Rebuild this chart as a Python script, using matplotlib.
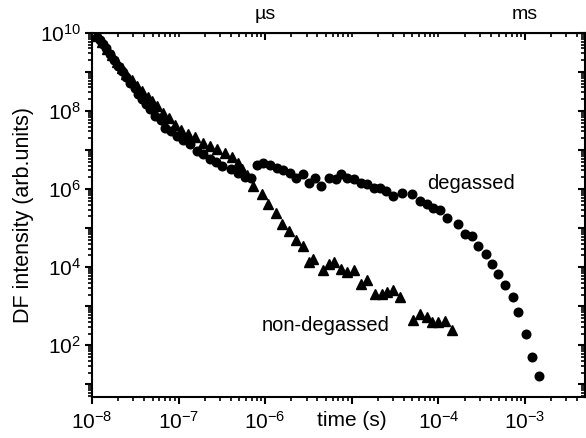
import numpy as np
import matplotlib
matplotlib.use("Agg")
import matplotlib.pyplot as plt
from matplotlib.ticker import LogLocator, FixedLocator, NullFormatter, FuncFormatter

plt.rcParams['font.family'] = ['Liberation Sans', 'DejaVu Sans']
plt.rcParams['mathtext.default'] = 'regular'

# degassed sample (circles): time (s), DF intensity (arb. units)
t_deg = [1.15e-8, 1.23e-8, 1.35e-8, 1.45e-8, 1.62e-8, 1.78e-8, 2.0e-8, 2.24e-8, 2.45e-8,
         2.75e-8, 3.1e-8, 3.4e-8, 3.8e-8, 4.2e-8, 4.7e-8, 5.4e-8, 6.2e-8, 6.9e-8, 8.1e-8,
         9.5e-8, 1.12e-7, 1.35e-7, 1.62e-7, 1.9e-7, 2.3e-7, 2.7e-7, 3.2e-7, 4.0e-7, 4.8e-7,
         5.9e-7, 6.8e-7, 8.1e-7, 9.5e-7, 1.15e-6, 1.38e-6, 1.62e-6, 1.95e-6, 2.24e-6, 2.7e-6,
         3.2e-6, 3.8e-6, 4.4e-6, 5.4e-6, 6.5e-6, 7.4e-6, 8.9e-6, 1.05e-5, 1.26e-5, 1.51e-5,
         1.78e-5, 2.1e-5, 2.45e-5, 3.0e-5, 3.8e-5, 5.0e-5, 6.2e-5, 7.4e-5, 8.7e-5, 1.05e-4,
         1.26e-4, 1.66e-4, 2.0e-4, 2.45e-4, 2.9e-4, 3.5e-4, 4.2e-4, 4.9e-4, 5.9e-4, 7.2e-4,
         8.3e-4, 1.02e-3, 1.2e-3, 1.45e-3]
i_deg = [7.9e9, 6.6e9, 5.2e9, 4.1e9, 2.9e9, 2.0e9, 1.4e9, 1.05e9, 7.2e8,
         5.1e8, 3.8e8, 2.7e8, 2.0e8, 1.55e8, 1.15e8, 7.6e7, 5.8e7, 3.7e7, 3.0e7,
         2.3e7, 1.8e7, 1.45e7, 9.5e6, 7.9e6, 5.9e6, 5.0e6, 3.9e6, 3.3e6, 2.6e6,
         2.0e6, 1.9e6, 4.2e6, 4.7e6, 4.2e6, 3.5e6, 3.1e6, 2.6e6, 1.9e6, 2.45e6,
         1.4e6, 1.9e6, 1.2e6, 1.9e6, 1.8e6, 2.45e6, 1.9e6, 1.8e6, 1.4e6, 1.35e6,
         1.07e6, 1.07e6, 8.9e5, 6.6e5, 7.9e5, 7.4e5, 4.9e5, 4.1e5, 3.2e5, 3.0e5,
         1.8e5, 1.3e5, 7.2e4, 6.2e4, 3.4e4, 2.2e4, 1.23e4, 6.8e3, 3.5e3, 1.74e3,
         7.1e2, 1.9e2, 4.9e1, 1.6e1]

# non-degassed sample (triangles)
t_non = [1.15e-8, 1.32e-8, 1.48e-8, 1.7e-8, 1.95e-8, 2.24e-8, 2.5e-8, 2.9e-8, 3.3e-8,
         3.8e-8, 4.4e-8, 4.9e-8, 5.6e-8, 6.6e-8, 7.8e-8, 9.1e-8, 1.07e-7, 1.29e-7, 1.55e-7,
         1.9e-7, 2.3e-7, 2.8e-7, 3.4e-7, 4.1e-7, 4.8e-7, 5.4e-7, 6.2e-7, 7.2e-7, 9.3e-7,
         1.07e-6, 1.32e-6, 1.58e-6, 1.86e-6, 2.24e-6, 2.7e-6, 3.2e-6, 3.55e-6, 4.6e-6,
         5.4e-6, 6.2e-6, 7.4e-6, 8.9e-6, 1.05e-5, 1.26e-5, 1.51e-5, 1.86e-5, 2.24e-5,
         2.57e-5, 3.0e-5, 3.6e-5, 5.1e-5, 6.2e-5, 7.4e-5, 8.5e-5, 1.0e-4, 1.2e-4, 1.45e-4]
i_non = [8.3e9, 5.9e9, 3.9e9, 2.7e9, 1.8e9, 1.26e9, 8.7e8, 6.2e8, 4.3e8,
         3.2e8, 2.3e8, 1.8e8, 1.32e8, 9.1e7, 6.5e7, 4.5e7, 3.3e7, 2.6e7, 2.1e7,
         1.55e7, 1.3e7, 1.07e7, 8.5e6, 6.8e6, 4.7e6, 3.3e6, 2.3e6, 1.2e6, 7.4e5,
         4.1e5, 2.4e5, 1.26e5, 8.3e4, 5.1e4, 3.4e4, 1.38e4, 1.66e4, 8.7e3,
         1.23e4, 1.38e4, 9.1e3, 7.6e3, 8.7e3, 3.7e3, 4.8e3, 2.1e3, 2.1e3,
         2.3e3, 2.6e3, 1.74e3, 4.5e2, 6.3e2, 5.2e2, 3.9e2, 3.9e2, 4.2e2, 2.45e2]

fig = plt.figure(figsize=(5.86, 4.38), dpi=100)
ax = fig.add_axes([0.157, 0.094, 0.841, 0.831])
ax.set_xscale('log')
ax.set_yscale('log')
ax.set_xlim(1e-8, 4.9e-3)
ax.set_ylim(4.8, 1e10)

ax.plot(t_deg, i_deg, 'o', color='black', ms=6.2, mec='black')
ax.plot(t_non, i_non, '^', color='black', ms=6.8, mec='black')

for s in ax.spines.values():
    s.set_linewidth(1.5)

xmaj = [1e-8, 1e-7, 1e-6, 1e-5, 1e-4, 1e-3]
xlab = ['$10^{-8}$', '$10^{-7}$', '$10^{-6}$', 'time (s)', '$10^{-4}$', '$10^{-3}$']
ax.set_xticks(xmaj)
ax.set_xticklabels(xlab)
ax.xaxis.set_minor_locator(LogLocator(base=10, subs=np.arange(2, 10), numticks=20))
ax.xaxis.set_minor_formatter(NullFormatter())

ydecades = [10.0**e for e in range(1, 11)]
ax.yaxis.set_major_locator(FixedLocator(ydecades))
ax.yaxis.set_major_formatter(FuncFormatter(
    lambda v, p: '$10^{%d}$' % round(np.log10(v)) if round(np.log10(v)) % 2 == 0 else ''))
ax.yaxis.set_minor_locator(LogLocator(base=10, subs=np.arange(2, 10), numticks=20))
ax.yaxis.set_minor_formatter(NullFormatter())

ax.tick_params(which='major', direction='out', length=5, width=1.5, labelsize=15)
ax.tick_params(axis='x', which='major', pad=5)
ax.tick_params(axis='y', which='major', pad=3)
ax.tick_params(which='minor', direction='out', length=3, width=1.2)

# top axis (unit markers) and right axis, ticks pointing in
top = ax.secondary_xaxis('top')
top.set_xticks([1e-6, 1e-3])
top.set_xticklabels(['µs', 'ms'])
top.xaxis.set_minor_locator(FixedLocator([10.0**e * m for e in range(-8, -2)
                                          for m in range(1, 10) if not (m == 1 and e in (-6, -3))]))
top.xaxis.set_minor_formatter(NullFormatter())
top.tick_params(which='major', direction='in', length=5, width=1.5, labelsize=14, pad=7)
top.tick_params(which='minor', direction='in', length=3, width=1.2)

right = ax.secondary_yaxis('right')
right.yaxis.set_major_locator(FixedLocator(ydecades))
right.yaxis.set_major_formatter(NullFormatter())
right.yaxis.set_minor_locator(LogLocator(base=10, subs=np.arange(2, 10), numticks=20))
right.yaxis.set_minor_formatter(NullFormatter())
right.tick_params(which='major', direction='in', length=5, width=1.5)
right.tick_params(which='minor', direction='in', length=3, width=1.2)

ax.set_ylabel('DF intensity (arb.units)', fontsize=15.5, labelpad=4)

ax.text(2.35e-4, 1.4e6, 'degassed', fontsize=14.5, ha='center', va='center')
ax.text(5.0e-6, 3.3e2, 'non-degassed', fontsize=14.5, ha='center', va='center')

fig.savefig('out.png', dpi=100)
